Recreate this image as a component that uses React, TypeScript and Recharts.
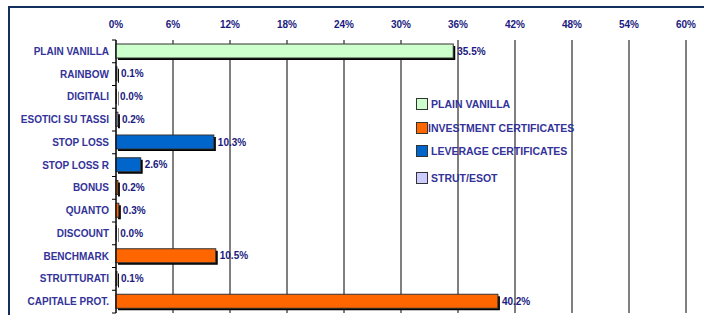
import { BarChart, Bar, XAxis, YAxis, CartesianGrid, LabelList, Cell } from 'recharts';

const categories = [
  'PLAIN VANILLA',
  'RAINBOW',
  'DIGITALI',
  'ESOTICI SU TASSI',
  'STOP LOSS',
  'STOP LOSS R',
  'BONUS',
  'QUANTO',
  'DISCOUNT',
  'BENCHMARK',
  'STRUTTURATI',
  'CAPITALE PROT.',
];

const shares = [35.5, 0.1, 0.0, 0.2, 10.3, 2.6, 0.2, 0.3, 0.03, 10.5, 0.1, 40.2];

const groups = [
  'PLAIN VANILLA',
  'STRUT/ESOT',
  'STRUT/ESOT',
  'STRUT/ESOT',
  'LEVERAGE CERTIFICATES',
  'LEVERAGE CERTIFICATES',
  'INVESTMENT CERTIFICATES',
  'INVESTMENT CERTIFICATES',
  'INVESTMENT CERTIFICATES',
  'INVESTMENT CERTIFICATES',
  'STRUT/ESOT',
  'INVESTMENT CERTIFICATES',
];

const legendNames = ['PLAIN VANILLA', 'INVESTMENT CERTIFICATES', 'LEVERAGE CERTIFICATES', 'STRUT/ESOT'];

const xTicks = [0, 6, 12, 18, 24, 30, 36, 42, 48, 54, 60];

const groupColors: Record<string, string> = {
  'PLAIN VANILLA': '#ccffcc',
  'INVESTMENT CERTIFICATES': '#ff6600',
  'LEVERAGE CERTIFICATES': '#0066cc',
  'STRUT/ESOT': '#ccccff',
};

const data = categories.map((name, i) => ({ name, value: shares[i], group: groups[i] }));

const FONT = '"Liberation Sans", Arial, sans-serif';
const ROW = 273 / categories.length;

function ShadowBar(props: any) {
  const { x, y, width, height, fill } = props;
  if (width == null || height == null) return null;
  const w = Math.max(width, 0.5);
  return (
    <g>
      <rect x={x + 2} y={y + 2} width={w} height={height} fill="#000" />
      <rect x={x} y={y} width={w} height={height} fill={fill} stroke="#333" strokeWidth={1} />
    </g>
  );
}

function ValueLabel(props: any) {
  const { x, y, width, height, value } = props;
  return (
    <text
      x={x + width + 4}
      y={y + height / 2}
      dominantBaseline="central"
      fontFamily={FONT}
      fontWeight="bold"
      fontSize={10}
      fill="#1a1a80"
    >
      {`${Number(value).toFixed(1)}%`}
    </text>
  );
}

function CategoryTick(props: any) {
  const { x, y, payload, index } = props;
  const axisX = x + 7;
  return (
    <g>
      <text
        x={x}
        y={y}
        textAnchor="end"
        dominantBaseline="central"
        fontFamily={FONT}
        fontWeight="bold"
        fontSize={10}
        fill="#333399"
      >
        {payload.value}
      </text>
      <line x1={axisX - 4} x2={axisX} y1={y - ROW / 2} y2={y - ROW / 2} stroke="#000" />
      {index === categories.length - 1 && (
        <line x1={axisX - 4} x2={axisX} y1={y + ROW / 2} y2={y + ROW / 2} stroke="#000" />
      )}
    </g>
  );
}

function LegendBox() {
  const tops = [98, 122, 145, 172];
  return (
    <div style={{ position: 'absolute', left: 416, top: 0, width: 240, height: 200 }}>
      {legendNames.map((name, i) => (
        <div key={name} style={{ position: 'absolute', left: 0, top: tops[i], display: 'flex', alignItems: 'center', whiteSpace: 'nowrap' }}>
          <span
            style={{
              display: 'inline-block',
              width: 10,
              height: 10,
              background: groupColors[name],
              border: '1px solid #333',
              marginRight: i === 1 ? 0 : 3,
            }}
          />
          <span style={{ fontFamily: FONT, fontWeight: 'bold', fontSize: 10.5, color: '#333399' }}>{name}</span>
        </div>
      ))}
    </div>
  );
}

export default function App() {
  return (
    <div style={{ position: 'absolute', left: 0, top: 0, width: 704, height: 315, overflow: 'hidden', background: '#fff' }}>
      <div
        style={{
          position: 'absolute',
          left: 8,
          top: 6,
          width: 760,
          height: 400,
          borderLeft: '2px solid #12305e',
          borderTop: '2px solid #12305e',
        }}
      />
      <div style={{ position: 'absolute', left: 0, top: 0 }}>
        <BarChart
          width={704}
          height={315}
          layout="vertical"
          data={data}
          margin={{ top: 20, right: 18, bottom: 2, left: 0 }}
          barCategoryGap={0}
        >
          <CartesianGrid horizontal={false} stroke="#000" strokeWidth={1} />
          <XAxis
            type="number"
            orientation="top"
            domain={[0, 60]}
            ticks={xTicks}
            tickFormatter={(v) => `${v}%`}
            axisLine={false}
            tickLine={false}
            tickSize={6}
            tickMargin={6}
            height={20}
            interval={0}
            tick={{ fontFamily: FONT, fontWeight: 'bold', fontSize: 10, fill: '#1a1a80' }}
          />
          <YAxis
            type="category"
            dataKey="name"
            width={116}
            axisLine={{ stroke: '#000' }}
            tickLine={false}
            tickSize={0}
            tickMargin={7}
            interval={0}
            tick={<CategoryTick />}
          />
          <Bar dataKey="value" barSize={14} isAnimationActive={false} shape={<ShadowBar />}>
            {data.map((d) => (
              <Cell key={d.name} fill={groupColors[d.group]} />
            ))}
            <LabelList dataKey="value" content={<ValueLabel />} />
          </Bar>
        </BarChart>
      </div>
      <LegendBox />
    </div>
  );
}
